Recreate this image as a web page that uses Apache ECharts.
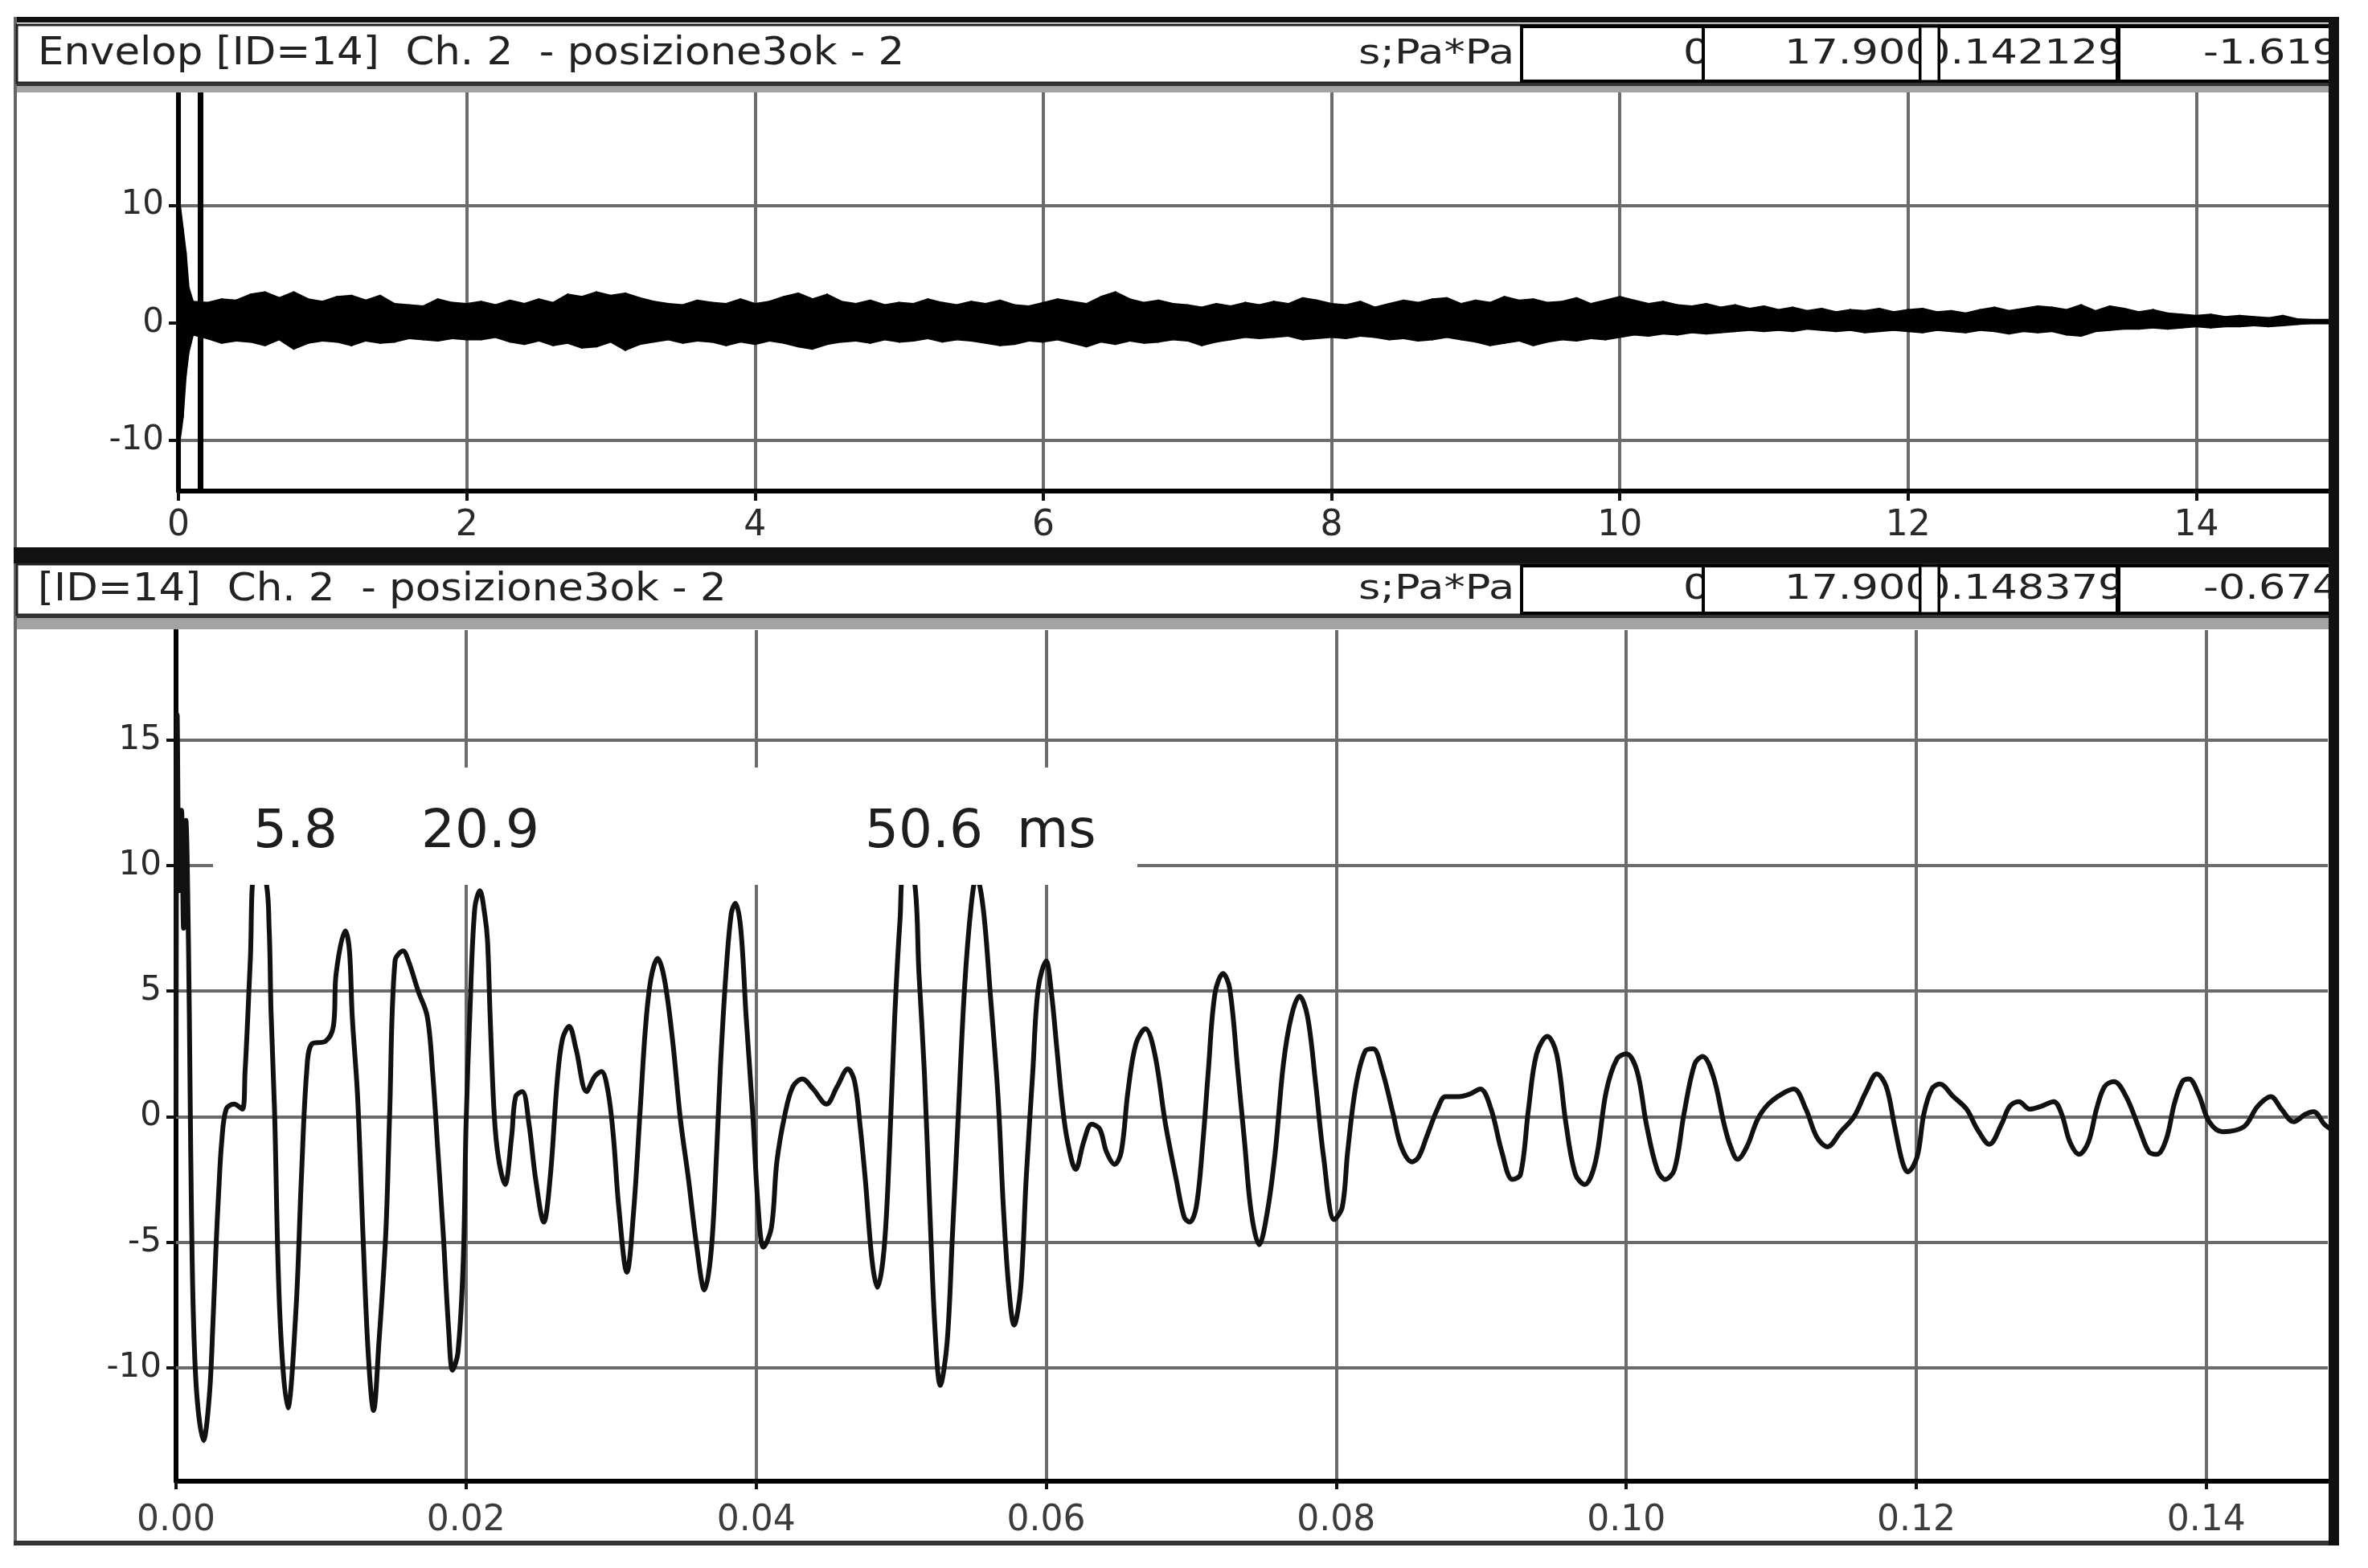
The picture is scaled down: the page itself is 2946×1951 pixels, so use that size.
<!DOCTYPE html>
<html><head><meta charset="utf-8">
<script src="https://cdn.jsdelivr.net/npm/echarts/dist/echarts.min.js"></script>
<style>html,body{margin:0;padding:0;background:#fff}#c{width:2946px;height:1951px}</style>
</head><body><div id="c"></div>
<script>
// ---------- texts ----------
const topTitle = 'Envelop [ID=14]  Ch. 2  - posizione3ok - 2';
const botTitle = '[ID=14]  Ch. 2  - posizione3ok - 2';
const unitText = 's;Pa*Pa';
const topFields = ['0', '17.900', '0.142129', '-1.619'];
const botFields = ['0', '17.900', '0.148379', '-0.674'];
const peakLabels = ['5.8', '20.9', '50.6  ms'];

// ---------- axes ----------
const topXTicks = [0, 2, 4, 6, 8, 10, 12, 14];
const topYTicks = [-10, 0, 10];
const botXTicks = [0, 0.02, 0.04, 0.06, 0.08, 0.10, 0.12, 0.14];
const botYTicks = [-10, -5, 0, 5, 10, 15];
const topXRange = [0, 14.94];
const topYRange = [-14.3, 19.66];
const botXRange = [0, 0.148379];
const botYRange = [-14.52, 19.38];
const cursorX = 0.148379;

// ---------- top panel: envelope of the long record (s) ----------
const envT = [0, 0.03, 0.05, 0.07,
 0.1,0.2,0.3,0.4,0.5,0.6,0.7,0.8,0.9,1.0,
 1.1,1.2,1.3,1.4,1.5,1.6,1.7,1.8,1.9,2.0,
 2.1,2.2,2.3,2.4,2.5,2.6,2.7,2.8,2.9,3.0,
 3.1,3.2,3.3,3.4,3.5,3.6,3.7,3.8,3.9,4.0,
 4.1,4.2,4.3,4.4,4.5,4.6,4.7,4.8,4.9,5.0,
 5.1,5.2,5.3,5.4,5.5,5.6,5.7,5.8,5.9,6.0,
 6.1,6.2,6.3,6.4,6.5,6.6,6.7,6.8,6.9,7.0,
 7.1,7.2,7.3,7.4,7.5,7.6,7.7,7.8,7.9,8.0,
 8.1,8.2,8.3,8.4,8.5,8.6,8.7,8.8,8.9,9.0,
 9.1,9.2,9.3,9.4,9.5,9.6,9.7,9.8,9.9,10.0,
 10.1,10.2,10.3,10.4,10.5,10.6,10.7,10.8,10.9,11.0,
 11.1,11.2,11.3,11.4,11.5,11.6,11.7,11.8,11.9,12.0,
 12.1,12.2,12.3,12.4,12.5,12.6,12.7,12.8,12.9,13.0,
 13.1,13.2,13.3,13.4,13.5,13.6,13.7,13.8,13.9,14.0,
 14.1,14.2,14.3,14.4,14.5,14.6,14.7,14.8,14.9,14.94];
const envHi = [11, 8, 6, 3,
 1.8,1.7,2.0,1.9,2.4,2.6,2.1,2.6,2.0,1.8,
 2.2,2.3,1.9,2.3,1.6,1.5,1.4,2.0,1.7,1.6,
 1.8,1.5,1.9,1.6,2.0,1.7,2.4,2.2,2.6,2.3,
 2.5,2.1,1.8,1.6,1.5,1.9,1.7,1.6,2.0,1.6,
 1.8,2.2,2.5,2.0,2.4,1.8,1.6,1.9,1.5,1.7,
 1.6,2.0,1.7,1.5,1.8,1.6,1.9,1.5,1.4,1.7,
 2.0,1.8,1.6,2.2,2.6,2.0,1.7,1.9,1.6,1.5,
 1.3,1.6,1.4,1.7,1.5,1.8,1.6,2.1,1.9,1.6,
 1.5,1.8,1.3,1.6,1.9,1.7,2.0,2.1,1.6,1.9,
 1.7,2.2,1.9,2.0,1.7,1.8,2.1,1.6,1.9,2.2,
 1.9,1.6,1.8,1.5,1.4,1.6,1.3,1.5,1.2,1.4,
 1.1,1.3,1.0,1.2,0.9,1.1,1.0,1.2,0.9,1.1,
 1.2,0.9,1.0,0.8,1.1,1.3,1.0,1.2,1.4,1.3,
 1.1,1.5,1.0,1.4,1.2,0.9,1.1,0.8,0.7,0.6,
 0.7,0.5,0.6,0.5,0.4,0.6,0.3,0.25,0.25,0.25];
const envLo = [-10.8, -8, -4.5, -2.5,
 -1.0,-1.3,-1.7,-1.5,-1.6,-1.9,-1.4,-2.2,-1.7,-1.5,
 -1.6,-1.9,-1.5,-1.7,-1.6,-1.3,-1.4,-1.5,-1.3,-1.4,
 -1.4,-1.2,-1.6,-1.8,-1.5,-1.9,-1.7,-2.1,-2.0,-1.6,
 -2.3,-1.8,-1.6,-1.4,-1.7,-1.5,-1.6,-1.9,-1.6,-1.8,
 -1.5,-1.7,-2.0,-2.2,-1.8,-1.6,-1.5,-1.7,-1.4,-1.6,
 -1.5,-1.3,-1.6,-1.4,-1.5,-1.7,-1.9,-1.8,-1.5,-1.6,
 -1.4,-1.7,-2.0,-1.6,-1.8,-1.5,-1.7,-1.6,-1.4,-1.5,
 -1.9,-1.6,-1.4,-1.2,-1.3,-1.2,-1.1,-1.4,-1.3,-1.2,
 -1.3,-1.1,-1.2,-1.4,-1.3,-1.5,-1.4,-1.2,-1.4,-1.6,
 -1.9,-1.7,-1.5,-1.9,-1.6,-1.4,-1.5,-1.3,-1.4,-1.2,
 -1.0,-1.1,-0.9,-1.0,-0.8,-0.9,-0.8,-0.7,-0.6,-0.7,
 -0.6,-0.7,-0.5,-0.6,-0.7,-0.6,-0.8,-0.7,-0.6,-0.7,
 -0.8,-0.6,-0.7,-0.8,-0.6,-0.7,-0.9,-0.7,-0.8,-0.7,
 -1.0,-1.1,-0.7,-0.6,-0.5,-0.5,-0.4,-0.5,-0.4,-0.3,
 -0.4,-0.3,-0.3,-0.2,-0.3,-0.2,-0.1,0.0,0.0,0.0];

// ---------- bottom panel: first 148 ms (time in ms, pressure) ----------
const botTimeMs = [
 0,0.08,0.22,0.38,0.52,0.68,0.86,0.97,1.06,1.2,
 1.45,1.89,2.3,2.54,2.75,2.95,3.15,3.46,4.0,4.57,
 4.76,4.95,5.12,5.45,6.15,6.42,6.55,6.79,7.16,7.71,
 8.27,8.64,9.01,9.37,10.3,10.85,11.04,11.68,11.96,12.15,
 12.52,12.89,13.25,13.62,13.99,14.46,14.73,15.1,15.66,16.03,
 16.7,17.32,17.69,18.06,18.43,18.8,19.07,19.44,19.81,20.0,
 20.28,20.6,20.95,21.3,21.48,21.66,21.94,22.22,22.68,23.14,
 23.42,23.88,24.34,24.8,25.36,25.82,26.28,26.65,27.11,27.58,
 28.31,28.87,29.33,29.79,30.16,30.53,31.09,31.55,32.01,32.38,
 32.75,33.21,33.67,34.23,34.78,35.34,35.89,36.44,36.91,37.28,
 37.55,37.92,38.29,38.57,38.94,39.31,39.77,40.14,40.51,41.06,
 41.43,41.99,42.54,43.19,43.93,44.85,45.59,46.33,46.79,47.16,
 47.53,47.99,48.36,48.82,49.19,49.56,49.93,50.21,50.86,51.23,
 51.6,51.97,52.34,52.7,53.17,53.54,53.91,54.37,54.83,55.2,
 55.66,56.12,56.68,57.05,57.42,57.79,58.25,58.62,59.08,59.45,
 60.0,60.37,60.74,61.11,61.48,62.04,62.59,63.14,63.7,64.16,
 64.72,65.18,65.64,66.19,66.84,67.49,68.23,68.97,69.52,69.89,
 70.35,70.81,71.18,71.64,72.2,72.66,73.22,73.68,74.14,74.69,
 75.25,75.8,76.36,76.91,77.47,78.02,78.57,79.13,79.87,80.42,
 80.79,81.35,81.99,82.55,83.19,83.93,84.49,85.23,85.69,86.24,
 86.98,87.54,88.46,89.2,89.94,90.68,91.42,92.15,92.71,93.26,
 93.82,94.56,95.2,95.85,96.5,97.14,97.88,98.62,99.36,100.01,
 100.75,101.39,102.13,102.69,103.33,103.98,104.72,105.27,106.01,106.75,
 107.2,107.68,108.32,109.06,109.8,110.72,111.56,112.39,113.13,113.87,
 114.79,115.71,116.54,117.28,117.93,118.48,119.04,119.41,120.06,120.52,
 121.07,121.63,122.55,123.47,124.21,125.04,125.88,126.43,127.08,127.82,
 128.55,129.48,130.03,130.59,131.23,131.88,132.43,132.99,133.64,134.47,
 135.39,136.04,136.59,137.24,137.79,138.35,138.81,139.46,140.2,141.12,
 142.6,143.52,144.45,145.18,146.02,146.85,147.4,148.14,148.6];
const botPressure = [
 0,16,9,12.2,7.5,11.8,6.8,1.0,-3.6,-8.0,
 -11.2,-12.9,-11.1,-8.3,-5.3,-2.9,-1.0,0.3,0.5,0.3,
 1.8,4.0,6.2,9.7,9.5,7.5,4.2,0.3,-7.9,-11.6,
 -7.7,-2.5,1.8,2.9,3.0,3.6,5.7,7.4,6.6,4.0,
 0.8,-4.7,-9.4,-11.7,-9.0,-4.7,0.1,6.2,6.6,6.2,
 5.0,4.0,1.8,-1.4,-4.7,-8.5,-10.1,-9.4,-5.7,-0.3,
 4.4,8.3,9.0,8.0,7.0,4.0,0.1,-1.6,-2.7,-0.8,
 0.8,1.0,-0.3,-2.5,-4.2,-2.3,1.4,3.1,3.6,2.7,
 1.0,1.6,1.8,1.0,-0.8,-3.6,-6.2,-3.8,0.3,3.6,
 5.5,6.3,5.5,3.1,-0.1,-2.5,-5.1,-6.9,-5.3,-1.4,
 2.1,5.7,8.1,8.5,7.5,4.0,0.1,-3.6,-5.2,-4.4,
 -1.8,0.1,1.2,1.5,1.1,0.5,1.2,1.9,1.4,-0.3,
 -2.5,-5.7,-6.8,-5.3,-1.4,4.0,7.9,9.7,9.6,5.7,
 1.8,-3.6,-8.5,-10.7,-9.0,-4.7,-0.3,5.1,8.4,9.6,
 8.3,5.1,0.8,-3.6,-6.8,-8.3,-6.8,-2.5,1.8,5.1,
 6.2,4.9,2.7,0.5,-1.0,-2.1,-1.0,-0.3,-0.5,-1.4,
 -1.9,-1.4,1.0,2.9,3.5,2.5,-0.3,-2.5,-4.0,-4.2,
 -3.6,-1.0,1.8,4.9,5.7,5.1,1.8,-1.0,-3.8,-5.1,
 -3.8,-1.4,2.1,4.0,4.8,4.0,1.4,-1.6,-4.1,-3.6,
 -1.4,1.2,2.6,2.7,1.8,0.1,-1.2,-1.8,-1.6,-0.8,
 0.3,0.8,0.8,0.9,1.1,0.3,-1.4,-2.5,-2.3,0.3,
 2.5,3.2,2.5,-0.3,-2.3,-2.7,-1.8,1.0,2.3,2.5,
 1.8,-0.3,-2.1,-2.5,-2.1,0.1,2.1,2.4,1.6,-0.3,
 -1.2,-1.7,-1.2,-0.1,0.5,0.9,1.1,0.3,-0.8,-1.2,
 -0.6,0.0,1.0,1.7,1.2,-0.3,-1.8,-2.2,-1.6,0.1,
 1.1,1.3,0.8,0.3,-0.5,-1.1,-0.3,0.4,0.6,0.3,
 0.4,0.6,0.1,-1.0,-1.5,-1.0,0.3,1.2,1.4,0.8,
 -0.5,-1.4,-1.5,-0.9,0.5,1.4,1.5,0.9,-0.2,-0.6,
 -0.4,0.4,0.8,0.3,-0.2,0.1,0.2,-0.3,-0.5];

// ---------- build chart ----------
const FONT = '"DejaVu Sans", "Liberation Sans", Arial, sans-serif';
const GRID = '#6b6b6b';
const chart = echarts.init(document.getElementById('c'));

function axisCommon(extra) {
  return Object.assign({
    axisLine: { show: true, onZero: false, lineStyle: { color: '#000', width: 6 } },
    axisTick: { show: true, inside: false, length: 12, lineStyle: { color: '#111', width: 4 } },
  }, extra);
}

const g = [];
let zc = 5;
function rect(x, y, w, h, fill, stroke, lw, z) {
  g.push({ type: 'rect', z: z == null ? zc++ : z, silent: true,
    shape: { x, y, width: w, height: h },
    style: { fill, stroke: stroke || null, lineWidth: lw || 0 } });
}
function txt(x, y, s, size, sx, color, z) {
  g.push({ type: 'text', z: z == null ? zc++ : z, silent: true, x, y, scaleX: sx || 1,
    style: { text: s, x: 0, y: 0, fill: color || '#222', font: size + 'px ' + FONT,
      align: 'left', textAlign: 'left', verticalAlign: 'middle', textVerticalAlign: 'middle' } });
}

// frame
rect(17, 21, 2893, 7, '#111');
rect(17, 21, 4, 1902, '#666');
function panelHeader(yTop, h, title, fields) {
  rect(21, yTop, 2876, h, '#fff', '#222', 3);
  const cy = yTop + h / 2 + 1;
  txt(47, cy, title, 48, 1.07);
  txt(1690, cy, unitText, 42, 1.25);
  rect(1893, yTop + 2, 226, h - 4, '#fff', '#000', 4);
  txt(2094, cy, fields[0], 42, 1.25);
  rect(2119, yTop + 2, 270, h - 4, '#fff', '#000', 4);
  txt(2220, cy, fields[1], 42, 1.25);
  rect(2412, yTop + 2, 222, h - 4, '#fff', '#000', 4);
  txt(2393, cy, fields[2], 42, 1.25);
  rect(2389, yTop + 2, 23, h - 4, '#fff', '#000', 3);
  rect(2636, yTop + 2, 265, h - 4, '#fff', '#000', 4);
  txt(2741, cy, fields[3], 42, 1.25);
}
panelHeader(31, 72, topTitle, topFields);
rect(21, 103, 2876, 4, '#333');
rect(21, 107, 2876, 8, '#a3a3a3');
rect(17, 681, 2893, 20, '#111');
panelHeader(702, 63, botTitle, botFields);
rect(21, 765, 2876, 4, '#333');
rect(21, 769, 2876, 14, '#a3a3a3');
rect(17, 1917, 2893, 6, '#333');
rect(2897, 21, 13, 1902, '#111', null, 0, 45);

// annotation box over the waveform
rect(265, 955, 1150, 146, '#fff', null, 0, 50);
txt(315, 1037, peakLabels[0], 66, 1.0, '#1e1e1e', 51);
txt(524, 1037, peakLabels[1], 66, 1.0, '#1e1e1e', 51);
txt(1076, 1037, peakLabels[2], 66, 1.0, '#1e1e1e', 51);

const envData = envT.map((t, i) => [t, envHi[i], envLo[i]]);
const botData = botTimeMs.map((t, i) => [t / 1000, botPressure[i]]);

const mLine = (vals, color, width, z) => ({
  silent: true, symbol: ['none', 'none'], animation: false, z: z,
  label: { show: false }, emphasis: { disabled: true },
  lineStyle: { color, width, type: 'solid' },
  data: vals
});

chart.setOption({
  backgroundColor: '#fff',
  animation: false,
  grid: [
    { left: 222, top: 114, width: 2679, height: 497 },
    { left: 219, top: 784, width: 2677, height: 1059 }
  ],
  xAxis: [
    axisCommon({ type: 'value', gridIndex: 0, min: topXRange[0], max: topXRange[1], interval: 2,
      splitLine: { show: true, lineStyle: { color: GRID, width: 4 } },
      axisTick: { show: true, length: 12, customValues: topXTicks, lineStyle: { color: '#111', width: 4 } },
      axisLabel: { customValues: topXTicks, color: '#2a2a2a', fontFamily: FONT, fontSize: 44, margin: 22,
        formatter: v => String(Math.round(v)) } }),
    axisCommon({ type: 'value', gridIndex: 1, min: botXRange[0], max: botXRange[1], interval: 0.02,
      splitLine: { show: true, lineStyle: { color: GRID, width: 4 } },
      axisTick: { show: true, length: 10, customValues: botXTicks, lineStyle: { color: '#111', width: 4 } },
      axisLabel: { customValues: botXTicks, color: '#3c3c3c', fontFamily: FONT, fontSize: 44, margin: 28,
        formatter: v => v.toFixed(2) } })
  ],
  yAxis: [
    axisCommon({ type: 'value', gridIndex: 0, min: topYRange[0], max: topYRange[1],
      splitLine: { show: false },
      axisTick: { show: true, length: 12, customValues: topYTicks, lineStyle: { color: '#111', width: 4 } },
      axisLabel: { customValues: topYTicks, color: '#2a2a2a', fontFamily: FONT, fontSize: 42, margin: 18,
        formatter: v => String(v) } }),
    axisCommon({ type: 'value', gridIndex: 1, min: botYRange[0], max: botYRange[1],
      splitLine: { show: false },
      axisTick: { show: true, length: 12, customValues: botYTicks, lineStyle: { color: '#111', width: 4 } },
      axisLabel: { customValues: botYTicks, color: '#2a2a2a', fontFamily: FONT, fontSize: 42, margin: 18,
        formatter: v => String(v) } })
  ],
  series: [
    { type: 'line', xAxisIndex: 0, yAxisIndex: 0, z: 1, data: [[0, 0]], showSymbol: false,
      lineStyle: { width: 0 }, silent: true,
      markLine: mLine(topYTicks.map(v => ({ yAxis: v })), GRID, 4, 1) },
    { type: 'custom', xAxisIndex: 0, yAxisIndex: 0, z: 3, silent: true,
      data: envData, encode: { x: 0, y: [1, 2] },
      renderItem: function (params, api) {
        const i = params.dataIndex;
        if (i >= envData.length - 1) return null;
        const a = envData[i], b = envData[i + 1];
        const pts = [api.coord([a[0], a[1]]), api.coord([b[0], b[1]]),
                     api.coord([b[0], b[2]]), api.coord([a[0], a[2]])];
        return { type: 'polygon', shape: { points: pts },
          style: { fill: '#000', stroke: '#000', lineWidth: 2.5, lineJoin: 'round' } };
      } },
    { type: 'line', xAxisIndex: 0, yAxisIndex: 0, z: 4, data: [[0, 0]], showSymbol: false,
      lineStyle: { width: 0 }, silent: true,
      markLine: mLine([{ xAxis: cursorX }], '#000', 7, 6) },
    { type: 'line', xAxisIndex: 1, yAxisIndex: 1, z: 1, data: [[0, 0]], showSymbol: false,
      lineStyle: { width: 0 }, silent: true,
      markLine: mLine(botYTicks.map(v => ({ yAxis: v })), GRID, 4, 1) },
    { type: 'line', xAxisIndex: 1, yAxisIndex: 1, z: 3, data: botData, showSymbol: false,
      smooth: 0.35, silent: true,
      lineStyle: { color: '#111', width: 6, join: 'round' } }
  ],
  graphic: { elements: g }
});
</script>
</body></html>
